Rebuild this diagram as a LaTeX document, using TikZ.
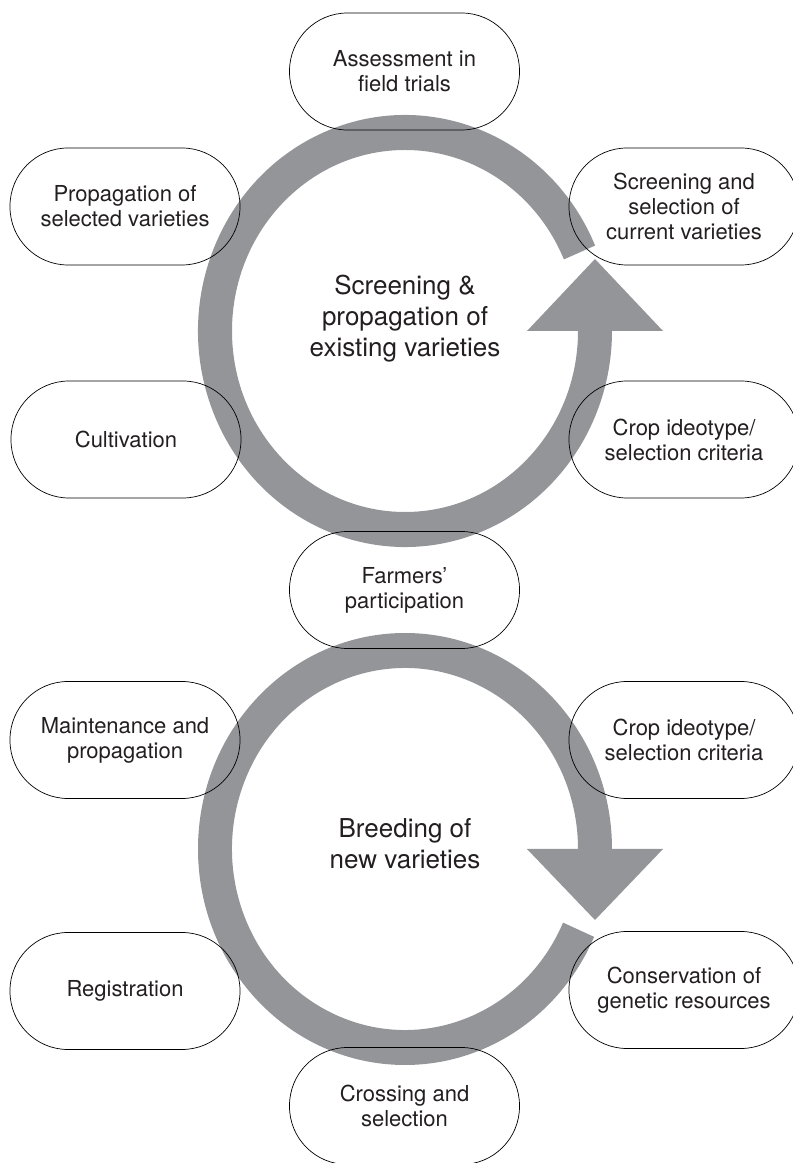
\documentclass[tikz,border=0pt]{standalone}
\usepackage{fontspec}
\setmainfont{TeX Gyre Heros}
\usetikzlibrary{calc}

\definecolor{ringgrey}{RGB}{147,149,152}
\definecolor{textdark}{RGB}{35,31,32}

\tikzset{
  stage/.style={draw=black, line width=0.7pt, rounded corners=58pt,
    minimum width=230pt, minimum height=117pt, inner sep=0pt,
    align=center, text=textdark, font=\fontsize{22}{25}\selectfont},
  hub/.style={align=center, text=textdark, inner sep=0pt,
    font=\fontsize{26}{31}\selectfont},
  ring/.style={fill=ringgrey, draw=none}
}

\begin{document}
\begin{tikzpicture}[x=1pt,y=1pt]
\useasboundingbox (0,0) rectangle (793,1163);

% centres of the two cycles
\coordinate (c1) at (405,832);
\coordinate (c2) at (405,314);

% upper cycle: ring running anticlockwise, head pointing up on the right
\fill[ring] ($(c1)+(23.3:207pt and 216pt)$)
  arc[start angle=23.3, end angle=360, x radius=207pt, y radius=216pt]
  -- (663,832) -- (595,904) -- (527,832) -- (578,832)
  arc[start angle=360, end angle=23.3, x radius=173pt, y radius=181pt]
  -- cycle;

% lower cycle: ring running clockwise, head pointing down on the right
\fill[ring] ($(c2)+(0:207pt and 216pt)$)
  arc[start angle=0, end angle=336, x radius=207pt, y radius=216pt]
  -- ($(c2)+(336:173pt and 181pt)$)
  arc[start angle=336, end angle=0, x radius=173pt, y radius=181pt]
  -- (527,314) -- (595,243) -- (663,314) -- cycle;

% hub labels
\node[hub] (hubtop) at (405,844) {Screening \&\\propagation of\\existing varieties};
\node[hub] (hubbot) at (405,319) {Breeding of\\new varieties};

% stages around the upper cycle
\node[stage] (assess)   at (404.5,1091.5) {Assessment in\\field trials};
\node[stage] (propag)   at (125,956.5)    {Propagation of\\selected varieties};
\node[stage] (screen)   at (684,956.5)    {Screening and\\selection of\\current varieties};
\node[stage] (cultiv)   at (126,723.5)    {Cultivation};
\node[stage] (croptop)  at (684,723.5)    {Crop ideotype/\\selection criteria};
\node[stage] (farmers)  at (404.5,573)    {Farmers'\\participation};

% stages around the lower cycle
\node[stage] (maint)    at (125,423)      {Maintenance and\\propagation};
\node[stage] (cropbot)  at (684,423)      {Crop ideotype/\\selection criteria};
\node[stage] (regist)   at (125,172)      {Registration};
\node[stage] (conserv)  at (684,173)      {Conservation of\\genetic resources};
\node[stage] (crossing) at (404.5,57)     {Crossing and\\selection};
\end{tikzpicture}
\end{document}
